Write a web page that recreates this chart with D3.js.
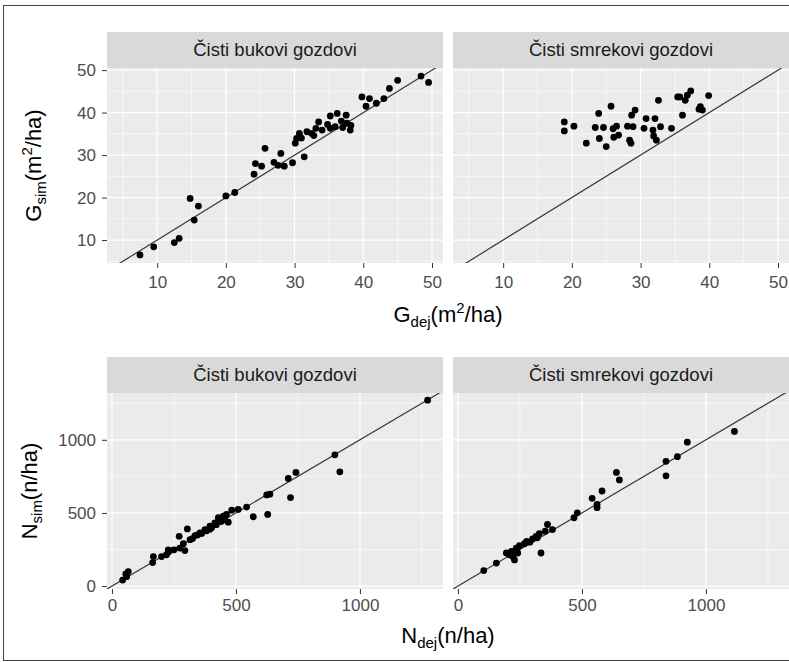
<!DOCTYPE html>
<html>
<head>
<meta charset="utf-8">
<script src="https://cdn.jsdelivr.net/npm/d3@7"></script>
<style>
  body { margin: 0; background: #fff; }
  text { font-family: "Liberation Sans", Arial, sans-serif; }
</style>
</head>
<body>
<svg id="chart" width="789" height="662"></svg>
<script>
// facet names
const facets = ["Čisti bukovi gozdovi", "Čisti smrekovi gozdovi"];

// tick labels
const gTicks = [10, 20, 30, 40, 50];
const nTicks = [0, 500, 1000];

// temeljnica (G) - [dejanska, simulirana]
const gBuk = [
  [7.5, 6.5], [9.5, 8.4], [12.5, 9.4], [13.2, 10.4], [14.8, 19.8], [15.4, 14.7], [16.0, 18.0],
  [20.0, 20.4], [21.3, 21.2], [24.1, 25.5], [24.3, 28.0], [25.2, 27.4], [25.7, 31.6], [27.0, 28.3],
  [28.0, 30.4], [27.6, 27.6], [28.5, 27.4], [29.7, 28.2], [30.1, 32.8], [30.3, 33.9], [30.7, 35.1],
  [31.4, 29.6], [31.8, 35.5], [32.5, 35.1], [33.1, 36.3], [33.5, 37.8], [34.0, 35.9], [35.2, 39.2],
  [35.2, 36.3], [36.2, 39.8], [35.9, 36.7], [37.0, 36.5], [37.5, 39.4], [37.6, 37.5], [38.1, 35.9],
  [39.8, 43.7], [40.4, 41.5], [40.9, 43.3], [41.9, 42.2], [43.0, 43.3], [43.8, 45.7], [45.0, 47.6],
  [48.4, 48.6], [49.5, 47.1], [31.0, 34.0], [32.8, 34.6], [34.8, 37.2], [36.8, 38.0], [38.2, 37.0]
];
const gSmr = [
  [18.9, 37.8], [18.9, 35.7], [20.3, 36.8], [22.1, 32.8], [23.9, 39.8], [23.4, 36.5], [24.0, 33.9],
  [24.6, 36.5], [25.0, 32.0], [25.7, 41.5], [26.0, 36.2], [26.1, 34.2], [26.5, 36.8], [26.8, 34.7],
  [28.1, 36.8], [28.4, 33.5], [28.6, 32.8], [28.7, 39.4], [29.2, 40.6], [28.9, 36.7], [30.5, 36.3],
  [30.8, 38.6], [31.8, 35.9], [31.9, 34.5], [32.1, 38.6], [32.3, 33.5], [32.6, 42.9], [32.9, 36.7],
  [34.5, 36.3], [35.4, 43.7], [36.1, 39.4], [36.5, 42.9], [36.8, 44.1], [37.3, 45.1], [38.7, 41.4],
  [39.0, 40.6], [39.9, 44.0], [35.7, 43.7], [38.5, 40.8]
];

// število dreves (N) - [dejansko, simulirano]
const nBuk = [
  [1273, 1271], [899, 897], [919, 781], [742, 777], [711, 736], [720, 605], [624, 623], [637, 628],
  [628, 490], [570, 474], [543, 540], [509, 524], [483, 519], [462, 490], [449, 478], [429, 467],
  [469, 437], [415, 432], [395, 409], [375, 386], [355, 363], [335, 345], [304, 391], [271, 340],
  [315, 317], [288, 290], [274, 260], [294, 243], [227, 248], [220, 214], [200, 202], [167, 202],
  [164, 161], [66, 99], [59, 64], [43, 41], [56, 83], [325, 325], [345, 350], [362, 360], [382, 378],
  [402, 398], [421, 420], [440, 441], [455, 452], [395, 388], [250, 248], [230, 236]
];
const nSmr = [
  [1115, 1057], [925, 984], [885, 885], [839, 853], [839, 754], [639, 777], [651, 726], [581, 650],
  [541, 600], [561, 559], [561, 536], [481, 501], [468, 467], [361, 421], [381, 386], [352, 375],
  [328, 359], [315, 340], [335, 226], [301, 322], [277, 306], [268, 290], [248, 276], [235, 260],
  [215, 237], [221, 202], [241, 226], [208, 214], [155, 157], [104, 106], [228, 179], [195, 226],
  [290, 300], [320, 330]
];

const svg = d3.select("#chart");

// okvir slike
svg.append("rect")
  .attr("x", 3.5).attr("y", 5.5)
  .attr("width", 800).attr("height", 655)
  .attr("fill", "none").attr("stroke", "#444").attr("stroke-width", 1);

const cols = [[107, 443], [453, 789]];

const rows = [
  {
    stripTop: 32, panelTop: 68, panelBottom: 263,
    xDomain: [2.7, 51.6], yDomain: [4.6, 50.5],
    ticks: gTicks, data: [gBuk, gSmr],
    xTitle: ["G", "dej", "(m", "2", "/ha)"], xTitleY: 322,
    yTitle: ["G", "sim", "(m", "2", "/ha)"], yTitleX: 41
  },
  {
    stripTop: 357, panelTop: 393, panelBottom: 589,
    xDomain: [-20, 1335], yDomain: [-20, 1320],
    ticks: nTicks, data: [nBuk, nSmr],
    xTitle: ["N", "dej", "(n/ha)"], xTitleY: 643,
    yTitle: ["N", "sim", "(n/ha)"], yTitleX: 37
  }
];

// minor breaks: sredina med glavnimi + ena na vsaki strani
function minorBreaks(ticks, domain) {
  const step = ticks[1] - ticks[0];
  const m = ticks.map(t => t - step / 2).concat([ticks[ticks.length - 1] + step / 2]);
  return m.filter(v => v >= domain[0] && v <= domain[1]);
}

function addTitle(sel, parts) {
  // parts: base, sub, rest, [sup, rest]
  sel.append("tspan").text(parts[0]);
  sel.append("tspan").attr("font-size", "15px").attr("dy", 5).text(parts[1]);
  sel.append("tspan").attr("dy", -5).text(parts[2]);
  if (parts.length > 3) {
    sel.append("tspan").attr("font-size", "15px").attr("dy", -9).text(parts[3]);
    sel.append("tspan").attr("dy", 9).text(parts[4]);
  }
}

rows.forEach((row, ri) => {
  const y = d3.scaleLinear().domain(row.yDomain).range([row.panelBottom, row.panelTop]);
  const minor = minorBreaks(row.ticks, row.xDomain);
  const minorY = minorBreaks(row.ticks, row.yDomain);

  cols.forEach((c, ci) => {
    const x = d3.scaleLinear().domain(row.xDomain).range(c);
    const g = svg.append("g");

    // strip
    g.append("rect")
      .attr("x", c[0]).attr("y", row.stripTop)
      .attr("width", c[1] - c[0]).attr("height", row.panelTop - row.stripTop)
      .attr("fill", "#d9d9d9");
    g.append("text")
      .attr("x", (c[0] + c[1]) / 2).attr("y", (row.stripTop + row.panelTop) / 2)
      .attr("dy", "0.35em").attr("text-anchor", "middle")
      .attr("font-size", "18.5px").attr("fill", "#1a1a1a")
      .text(facets[ci]);

    // panel
    g.append("rect")
      .attr("x", c[0]).attr("y", row.panelTop)
      .attr("width", c[1] - c[0]).attr("height", row.panelBottom - row.panelTop)
      .attr("fill", "#ebebeb");

    const clipId = `clip-${ri}-${ci}`;
    g.append("clipPath").attr("id", clipId)
      .append("rect")
      .attr("x", c[0]).attr("y", row.panelTop)
      .attr("width", c[1] - c[0]).attr("height", row.panelBottom - row.panelTop);

    // grid
    g.selectAll(".minx").data(minor).enter().append("line")
      .attr("x1", d => x(d)).attr("x2", d => x(d))
      .attr("y1", row.panelTop).attr("y2", row.panelBottom)
      .attr("stroke", "#fff").attr("stroke-width", 0.6);
    g.selectAll(".miny").data(minorY).enter().append("line")
      .attr("y1", d => y(d)).attr("y2", d => y(d))
      .attr("x1", c[0]).attr("x2", c[1])
      .attr("stroke", "#fff").attr("stroke-width", 0.6);
    g.selectAll(".majx").data(row.ticks).enter().append("line")
      .attr("x1", d => x(d)).attr("x2", d => x(d))
      .attr("y1", row.panelTop).attr("y2", row.panelBottom)
      .attr("stroke", "#fff").attr("stroke-width", 1.2);
    g.selectAll(".majy").data(row.ticks).enter().append("line")
      .attr("y1", d => y(d)).attr("y2", d => y(d))
      .attr("x1", c[0]).attr("x2", c[1])
      .attr("stroke", "#fff").attr("stroke-width", 1.2);

    // 1:1 linija
    g.append("line")
      .attr("clip-path", `url(#${clipId})`)
      .attr("x1", x(row.xDomain[0])).attr("y1", y(row.xDomain[0]))
      .attr("x2", x(row.xDomain[1])).attr("y2", y(row.xDomain[1]))
      .attr("stroke", "#3a3a3a").attr("stroke-width", 1.2);

    // tocke
    g.selectAll(".pt").data(row.data[ci]).enter().append("circle")
      .attr("cx", d => x(d[0])).attr("cy", d => y(d[1]))
      .attr("r", 3.4).attr("fill", "#000");

    // x os
    const ax = g.append("g")
      .attr("transform", `translate(0,${row.panelBottom})`)
      .call(d3.axisBottom(x).tickValues(row.ticks).tickFormat(d3.format("d"))
        .tickSize(5).tickPadding(ri === 0 ? 8 : 5));
    ax.select(".domain").remove();
    ax.selectAll("line").attr("stroke", "#333");
    ax.selectAll("text").attr("font-size", "17px").attr("fill", "#4d4d4d")
      .attr("font-family", "Liberation Sans, Arial, sans-serif");

    // y os samo levo
    if (ci === 0) {
      const ay = g.append("g")
        .attr("transform", `translate(${c[0]},0)`)
        .call(d3.axisLeft(y).tickValues(row.ticks).tickFormat(d3.format("d"))
          .tickSize(5).tickPadding(6));
      ay.select(".domain").remove();
      ay.selectAll("line").attr("stroke", "#333");
      ay.selectAll("text").attr("font-size", "17px").attr("fill", "#4d4d4d")
        .attr("font-family", "Liberation Sans, Arial, sans-serif");
    }
  });

  // naslovi osi
  const xt = svg.append("text")
    .attr("x", (cols[0][0] + cols[1][1]) / 2).attr("y", row.xTitleY)
    .attr("text-anchor", "middle").attr("font-size", "22px").attr("fill", "#000");
  addTitle(xt, row.xTitle);

  const yt = svg.append("text")
    .attr("transform", `translate(${row.yTitleX},${(row.panelTop + row.panelBottom) / 2}) rotate(-90)`)
    .attr("text-anchor", "middle").attr("font-size", "22px").attr("fill", "#000");
  addTitle(yt, row.yTitle);
});
</script>
</body>
</html>
